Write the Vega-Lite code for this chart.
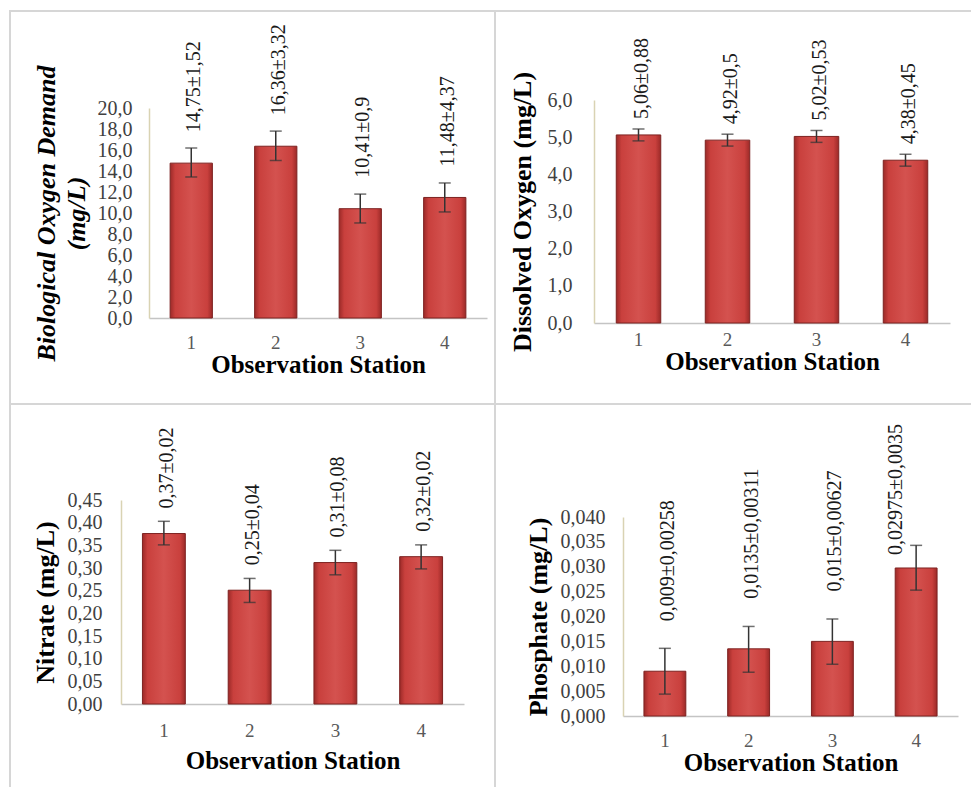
{
  "$schema": "https://vega.github.io/schema/vega-lite/v6.json",
  "padding": {"left": 9, "top": 10, "right": 0, "bottom": 0},
  "background": "white",
  "datasets": {
    "bod": [
      {"station": 1, "value": 14.75, "lo": 13.43, "hi": 16.19, "label": "14,75±1,52"},
      {"station": 2, "value": 16.36, "lo": 15.0, "hi": 17.8, "label": "16,36±3,32"},
      {"station": 3, "value": 10.41, "lo": 9.05, "hi": 11.8, "label": "10,41±0,9"},
      {"station": 4, "value": 11.48, "lo": 10.1, "hi": 12.86, "label": "11,48±4,37"}
    ],
    "do": [
      {"station": 1, "value": 5.06, "lo": 4.9, "hi": 5.22, "label": "5,06±0,88"},
      {"station": 2, "value": 4.92, "lo": 4.76, "hi": 5.08, "label": "4,92±0,5"},
      {"station": 3, "value": 5.02, "lo": 4.86, "hi": 5.18, "label": "5,02±0,53"},
      {"station": 4, "value": 4.38, "lo": 4.22, "hi": 4.54, "label": "4,38±0,45"}
    ],
    "nitrate": [
      {"station": 1, "value": 0.376, "lo": 0.351, "hi": 0.403, "label": "0,37±0,02"},
      {"station": 2, "value": 0.251, "lo": 0.224, "hi": 0.277, "label": "0,25±0,04"},
      {"station": 3, "value": 0.312, "lo": 0.285, "hi": 0.339, "label": "0,31±0,08"},
      {"station": 4, "value": 0.325, "lo": 0.298, "hi": 0.351, "label": "0,32±0,02"}
    ],
    "phosphate": [
      {"station": 1, "value": 0.009, "lo": 0.0044, "hi": 0.0136, "label": "0,009±0,00258"},
      {"station": 2, "value": 0.0135, "lo": 0.0088, "hi": 0.018, "label": "0,0135±0,00311"},
      {"station": 3, "value": 0.015, "lo": 0.0104, "hi": 0.0195, "label": "0,015±0,00627"},
      {"station": 4, "value": 0.02975, "lo": 0.0253, "hi": 0.0343, "label": "0,02975±0,0035"}
    ]
  },
  "spacing": 0,
  "bounds": "flush",
  "columns": 2,
  "concat": [
    {
      "width": 485, "height": 393,
      "data": {"name": "bod"},
      "encoding": {
        "x": {"field": "station", "type": "ordinal", "title": "Observation Station",
          "scale": {"range": [139, 477], "paddingInner": 0.5, "paddingOuter": 0.25},
          "axis": {"offset": -86, "labelPadding": 15, "titlePadding": 0}}
      },
      "layer": [
        {"mark": {"type": "bar", "fill": {"gradient": "linear", "x1": 0, "y1": 0, "x2": 1, "y2": 0, "stops": [{"offset": 0, "color": "#9c2a28"}, {"offset": 0.12, "color": "#c9403d"}, {"offset": 0.5, "color": "#d4524f"}, {"offset": 0.88, "color": "#c9403d"}, {"offset": 1, "color": "#9c2a28"}]}, "stroke": "#7d2220", "strokeWidth": 1},
          "encoding": {"y": {"field": "value", "type": "quantitative", "title": ["Biological  Oxygen Demand", "(mg/L)"],
            "scale": {"domain": [0, 20], "range": [307, 97], "nice": false},
            "axis": {"offset": -139, "values": [0, 2, 4, 6, 8, 10, 12, 14, 16, 18, 20], "tickCount": 30, "format": ".1f", "labelOverlap": false, "labelPadding": 17, "titlePadding": 8, "titleFontStyle": "italic", "titleLineHeight": 30}}}},
        {"mark": {"type": "rule", "color": "#333333", "strokeWidth": 1.5},
          "encoding": {"y": {"field": "lo", "type": "quantitative", "scale": {"domain": [0, 20], "range": [307, 97], "nice": false}}, "y2": {"field": "hi"}}},
        {"mark": {"type": "tick", "color": "#333333", "size": 12, "thickness": 1.5},
          "encoding": {"y": {"field": "lo", "type": "quantitative", "scale": {"domain": [0, 20], "range": [307, 97], "nice": false}}}},
        {"mark": {"type": "tick", "color": "#333333", "size": 12, "thickness": 1.5},
          "encoding": {"y": {"field": "hi", "type": "quantitative", "scale": {"domain": [0, 20], "range": [307, 97], "nice": false}}}},
        {"mark": {"type": "text", "angle": 270, "align": "left", "baseline": "middle", "dx": 31, "dy": 3, "fontSize": 20, "color": "#1a1a1a"},
          "encoding": {"y": {"field": "value", "type": "quantitative", "scale": {"domain": [0, 20], "range": [307, 97], "nice": false}}, "text": {"field": "label"}}}
      ]
    },
    {
      "width": 477, "height": 393,
      "data": {"name": "do"},
      "encoding": {
        "x": {"field": "station", "type": "ordinal", "title": "Observation Station",
          "scale": {"range": [99, 455], "paddingInner": 0.5, "paddingOuter": 0.25},
          "axis": {"offset": -81, "labelPadding": 7, "titlePadding": 0}}
      },
      "layer": [
        {"mark": {"type": "bar", "fill": {"gradient": "linear", "x1": 0, "y1": 0, "x2": 1, "y2": 0, "stops": [{"offset": 0, "color": "#9c2a28"}, {"offset": 0.12, "color": "#c9403d"}, {"offset": 0.5, "color": "#d4524f"}, {"offset": 0.88, "color": "#c9403d"}, {"offset": 1, "color": "#9c2a28"}]}, "stroke": "#7d2220", "strokeWidth": 1},
          "encoding": {"y": {"field": "value", "type": "quantitative", "title": "Dissolved Oxygen (mg/L)",
            "scale": {"domain": [0, 6], "range": [312, 89], "nice": false},
            "axis": {"offset": -99, "values": [0, 1, 2, 3, 4, 5, 6], "tickCount": 30, "format": ".1f", "labelOverlap": false, "labelPadding": 22, "titlePadding": 12}}}},
        {"mark": {"type": "rule", "color": "#333333", "strokeWidth": 1.5},
          "encoding": {"y": {"field": "lo", "type": "quantitative", "scale": {"domain": [0, 6], "range": [312, 89], "nice": false}}, "y2": {"field": "hi"}}},
        {"mark": {"type": "tick", "color": "#333333", "size": 12, "thickness": 1.5},
          "encoding": {"y": {"field": "lo", "type": "quantitative", "scale": {"domain": [0, 6], "range": [312, 89], "nice": false}}}},
        {"mark": {"type": "tick", "color": "#333333", "size": 12, "thickness": 1.5},
          "encoding": {"y": {"field": "hi", "type": "quantitative", "scale": {"domain": [0, 6], "range": [312, 89], "nice": false}}}},
        {"mark": {"type": "text", "angle": 270, "align": "left", "baseline": "middle", "dx": 16, "dy": 3, "fontSize": 20, "color": "#1a1a1a"},
          "encoding": {"y": {"field": "value", "type": "quantitative", "scale": {"domain": [0, 6], "range": [312, 89], "nice": false}}, "text": {"field": "label"}}}
      ]
    },
    {
      "width": 485, "height": 384,
      "data": {"name": "nitrate"},
      "encoding": {
        "x": {"field": "station", "type": "ordinal", "title": "Observation Station",
          "scale": {"range": [111, 454], "paddingInner": 0.5, "paddingOuter": 0.25},
          "axis": {"offset": -84, "labelPadding": 17, "titlePadding": 8}}
      },
      "layer": [
        {"mark": {"type": "bar", "fill": {"gradient": "linear", "x1": 0, "y1": 0, "x2": 1, "y2": 0, "stops": [{"offset": 0, "color": "#9c2a28"}, {"offset": 0.12, "color": "#c9403d"}, {"offset": 0.5, "color": "#d4524f"}, {"offset": 0.88, "color": "#c9403d"}, {"offset": 1, "color": "#9c2a28"}]}, "stroke": "#7d2220", "strokeWidth": 1},
          "encoding": {"y": {"field": "value", "type": "quantitative", "title": "Nitrate  (mg/L)",
            "scale": {"domain": [0, 0.45], "range": [300, 96], "nice": false},
            "axis": {"offset": -111, "values": [0, 0.05, 0.1, 0.15, 0.2, 0.25, 0.3, 0.35, 0.4, 0.45], "tickCount": 30, "format": ".2f", "labelOverlap": false, "labelPadding": 19, "titlePadding": 9}}}},
        {"mark": {"type": "rule", "color": "#333333", "strokeWidth": 1.5},
          "encoding": {"y": {"field": "lo", "type": "quantitative", "scale": {"domain": [0, 0.45], "range": [300, 96], "nice": false}}, "y2": {"field": "hi"}}},
        {"mark": {"type": "tick", "color": "#333333", "size": 12, "thickness": 1.5},
          "encoding": {"y": {"field": "lo", "type": "quantitative", "scale": {"domain": [0, 0.45], "range": [300, 96], "nice": false}}}},
        {"mark": {"type": "tick", "color": "#333333", "size": 12, "thickness": 1.5},
          "encoding": {"y": {"field": "hi", "type": "quantitative", "scale": {"domain": [0, 0.45], "range": [300, 96], "nice": false}}}},
        {"mark": {"type": "text", "angle": 270, "align": "left", "baseline": "middle", "dx": 25, "dy": 3, "fontSize": 20, "color": "#1a1a1a"},
          "encoding": {"y": {"field": "value", "type": "quantitative", "scale": {"domain": [0, 0.45], "range": [300, 96], "nice": false}}, "text": {"field": "label"}}}
      ]
    },
    {
      "width": 477, "height": 384,
      "data": {"name": "phosphate"},
      "encoding": {
        "x": {"field": "station", "type": "ordinal", "title": "Observation Station",
          "scale": {"range": [128, 463], "paddingInner": 0.5, "paddingOuter": 0.25},
          "axis": {"offset": -72, "labelPadding": 15, "titlePadding": 0}}
      },
      "layer": [
        {"mark": {"type": "bar", "fill": {"gradient": "linear", "x1": 0, "y1": 0, "x2": 1, "y2": 0, "stops": [{"offset": 0, "color": "#9c2a28"}, {"offset": 0.12, "color": "#c9403d"}, {"offset": 0.5, "color": "#d4524f"}, {"offset": 0.88, "color": "#c9403d"}, {"offset": 1, "color": "#9c2a28"}]}, "stroke": "#7d2220", "strokeWidth": 1},
          "encoding": {"y": {"field": "value", "type": "quantitative", "title": "Phosphate (mg/L)",
            "scale": {"domain": [0, 0.04], "range": [312, 113], "nice": false},
            "axis": {"offset": -128, "values": [0, 0.005, 0.01, 0.015, 0.02, 0.025, 0.03, 0.035, 0.04], "tickCount": 30, "format": ".3f", "labelOverlap": false, "labelPadding": 18, "titlePadding": 9}}}},
        {"mark": {"type": "rule", "color": "#333333", "strokeWidth": 1.5},
          "encoding": {"y": {"field": "lo", "type": "quantitative", "scale": {"domain": [0, 0.04], "range": [312, 113], "nice": false}}, "y2": {"field": "hi"}}},
        {"mark": {"type": "tick", "color": "#333333", "size": 12, "thickness": 1.5},
          "encoding": {"y": {"field": "lo", "type": "quantitative", "scale": {"domain": [0, 0.04], "range": [312, 113], "nice": false}}}},
        {"mark": {"type": "tick", "color": "#333333", "size": 12, "thickness": 1.5},
          "encoding": {"y": {"field": "hi", "type": "quantitative", "scale": {"domain": [0, 0.04], "range": [312, 113], "nice": false}}}},
        {"transform": [{"filter": "datum.station != 4"}],
          "mark": {"type": "text", "angle": 270, "align": "left", "baseline": "middle", "dx": 50, "dy": 3, "fontSize": 20, "color": "#1a1a1a"},
          "encoding": {"y": {"field": "value", "type": "quantitative", "scale": {"domain": [0, 0.04], "range": [312, 113], "nice": false}}, "text": {"field": "label"}}},
        {"transform": [{"filter": "datum.station == 4"}],
          "mark": {"type": "text", "angle": 270, "align": "left", "baseline": "middle", "dx": 13, "dy": -20, "fontSize": 20, "color": "#1a1a1a"},
          "encoding": {"y": {"field": "value", "type": "quantitative", "scale": {"domain": [0, 0.04], "range": [312, 113], "nice": false}}, "text": {"field": "label"}}}
      ]
    }
  ],
  "config": {
    "font": "Liberation Serif",
    "view": {"stroke": "#d6d6d6", "strokeWidth": 2},
    "concat": {"spacing": 0},
    "locale": {"number": {"decimal": ",", "thousands": ".", "grouping": [3], "currency": ["", ""]}},
    "axis": {
      "labelFont": "Liberation Serif", "titleFont": "Liberation Serif",
      "grid": false, "ticks": false, "tickSize": 0, "labelOverlap": false,
      "labelFontSize": 20, "titleFontSize": 25, "titleFontWeight": "bold",
      "titleColor": "#000000", "labelColor": "#404040"
    },
    "axisX": {"labelAngle": 0, "domainColor": "#c4c4c4", "domainWidth": 1.5, "labelColor": "#595959", "labelFontSize": 19},
    "axisY": {"domainColor": "#d9d3b3", "domainWidth": 1.5, "titleFontSize": 26}
  }
}
